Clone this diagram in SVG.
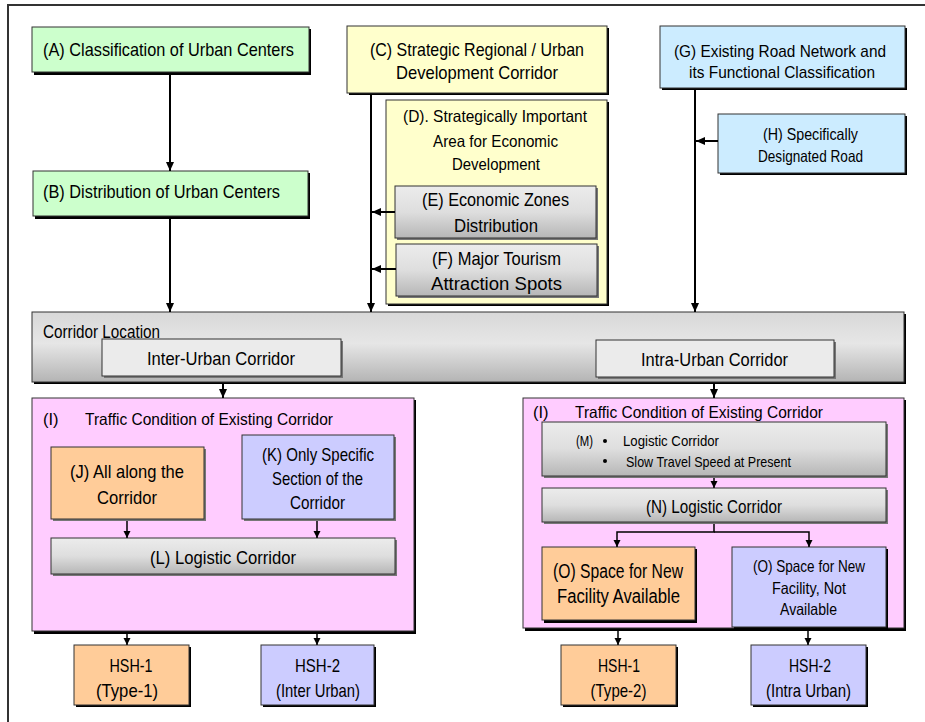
<svg xmlns="http://www.w3.org/2000/svg" width="925" height="722" viewBox="0 0 925 722">
<defs>
<linearGradient id="gray" x1="0" y1="0" x2="0" y2="1">
<stop offset="0" stop-color="#ececec"/>
<stop offset="0.5" stop-color="#dedede"/>
<stop offset="1" stop-color="#b6b6b6"/>
</linearGradient>
<linearGradient id="gray2" x1="0" y1="0" x2="0" y2="1">
<stop offset="0" stop-color="#d8d8d8"/>
<stop offset="0.45" stop-color="#e6e6e6"/>
<stop offset="1" stop-color="#b4b4b4"/>
</linearGradient>
<marker id="ah" markerUnits="userSpaceOnUse" markerWidth="10" markerHeight="10" refX="9" refY="5" orient="auto">
<path d="M0,1 L9,5 L0,9 Z" fill="#000"/>
</marker>
<marker id="as" markerUnits="userSpaceOnUse" markerWidth="8" markerHeight="8" refX="7" refY="4" orient="auto">
<path d="M0,0.5 L7,4 L0,7.5 Z" fill="#000"/>
</marker>
</defs>
<style>
text{font-family:"Liberation Sans Narrow","Liberation Sans",Arial,sans-serif;fill:#000;}
.t17{font-size:18.5px;text-anchor:middle;}
.t15{font-size:16.5px;text-anchor:middle;}
.l15{font-size:16.5px;}
.l13{font-size:14.5px;}
.box{stroke:#333;stroke-width:1;}
.sh{fill:#000;}
.shg{fill:#777;}
.green{fill:#ccffcc;}
.yellow{fill:#ffffcc;}
.blue{fill:#ccecff;}
.pink{fill:#ffccff;}
.orange{fill:#ffcc99;}
.lav{fill:#ccccff;}
.light{fill:#ebebeb;}
.grad{fill:url(#gray);}
.conn{stroke:#000;stroke-width:2;fill:none;}
.conns{stroke:#000;stroke-width:1.5;fill:none;}
</style>
<rect x="0" y="0" width="925" height="722" fill="#fff"/>
<rect x="8" y="5" width="940" height="740" fill="none" stroke="#333" stroke-width="2"/>

<g id="nodeA">
<rect class="sh" x="34" y="29" width="277" height="46"/>
<rect class="box green" x="32" y="27" width="277" height="45"/>
<text class="t17" x="168.5" y="56" textLength="251" lengthAdjust="spacingAndGlyphs">(A) Classification of Urban Centers</text>
</g>
<g id="nodeB">
<rect class="sh" x="35" y="173" width="275" height="46"/>
<rect class="box green" x="33" y="171" width="275" height="45"/>
<text class="t17" x="161.5" y="198" textLength="237" lengthAdjust="spacingAndGlyphs">(B) Distribution of Urban Centers</text>
</g>
<g id="nodeC">
<rect class="sh" x="349" y="28" width="260" height="67"/>
<rect class="box yellow" x="347" y="26" width="260" height="67"/>
<text class="t17" x="477" y="56" textLength="214" lengthAdjust="spacingAndGlyphs">(C) Strategic Regional / Urban</text>
<text class="t17" x="477" y="79" textLength="162" lengthAdjust="spacingAndGlyphs">Development Corridor</text>
</g>
<g id="nodeD">
<rect class="sh" x="388" y="102" width="221" height="204"/>
<rect class="box yellow" x="386" y="100" width="221" height="204"/>
<text class="t15" x="495" y="122" textLength="184" lengthAdjust="spacingAndGlyphs">(D). Strategically Important</text>
<text class="t15" x="495.5" y="147" textLength="125" lengthAdjust="spacingAndGlyphs">Area for Economic</text>
<text class="t15" x="496" y="170" textLength="88" lengthAdjust="spacingAndGlyphs">Development</text>
</g>
<g id="nodeE">
<rect class="shg" x="397" y="188" width="201" height="52"/>
<rect class="box grad" x="395" y="186" width="201" height="52"/>
<text class="t17" x="495.5" y="206" textLength="147" lengthAdjust="spacingAndGlyphs">(E) Economic Zones</text>
<text class="t17" x="496" y="232" textLength="84" lengthAdjust="spacingAndGlyphs">Distribution</text>
</g>
<g id="nodeF">
<rect class="shg" x="398" y="246" width="201" height="52"/>
<rect class="box grad" x="396" y="244" width="201" height="52"/>
<text class="t17" x="496.5" y="265" textLength="129" lengthAdjust="spacingAndGlyphs">(F) Major Tourism</text>
<text class="t17" x="496.5" y="290" textLength="131" lengthAdjust="spacingAndGlyphs">Attraction Spots</text>
</g>
<g id="nodeG">
<rect class="sh" x="662" y="28" width="245" height="62"/>
<rect class="box blue" x="660" y="26" width="245" height="62"/>
<text class="t17" x="780" y="57" textLength="212" lengthAdjust="spacingAndGlyphs" style="font-size:17px">(G) Existing Road Network and</text>
<text class="t17" x="782" y="78" textLength="186" lengthAdjust="spacingAndGlyphs" style="font-size:17px">its Functional Classification</text>
</g>
<g id="nodeH">
<rect class="sh" x="720" y="116" width="187" height="59"/>
<rect class="box blue" x="718" y="114" width="187" height="59"/>
<text class="t15" x="810.5" y="140" textLength="95" lengthAdjust="spacingAndGlyphs">(H) Specifically</text>
<text class="t15" x="810.5" y="162" textLength="105" lengthAdjust="spacingAndGlyphs">Designated Road</text>
</g>
<g id="nodeCorridor">
<rect class="sh" x="34" y="314" width="872" height="70"/>
<rect class="box" fill="url(#gray2)" x="32" y="312" width="872" height="70"/>
<text x="43" y="338" textLength="117" lengthAdjust="spacingAndGlyphs" style="font-size:17.5px">Corridor Location</text>
</g>
<g id="nodeInter">
<rect class="shg" x="104" y="341" width="239" height="37"/>
<rect class="box light" x="102" y="339" width="239" height="37"/>
<text class="t17" x="221" y="365" textLength="148" lengthAdjust="spacingAndGlyphs">Inter-Urban Corridor</text>
</g>
<g id="nodeIntra">
<rect class="shg" x="598" y="342" width="238" height="37"/>
<rect class="box light" x="596" y="340" width="238" height="37"/>
<text class="t17" x="714.5" y="366" textLength="147" lengthAdjust="spacingAndGlyphs">Intra-Urban Corridor</text>
</g>
<g id="nodeI1">
<rect class="sh" x="34" y="400" width="382" height="234"/>
<rect class="box pink" x="32" y="398" width="382" height="233"/>
<text class="l15" x="43" y="425">(I)</text>
<text class="l15" x="85" y="425" textLength="248" lengthAdjust="spacingAndGlyphs">Traffic Condition of Existing Corridor</text>
</g>
<g id="nodeJ">
<rect class="shg" x="53" y="449" width="153" height="72"/>
<rect class="box orange" x="51" y="447" width="153" height="72"/>
<text class="t17" x="127" y="478" textLength="114" lengthAdjust="spacingAndGlyphs">(J) All along the</text>
<text class="t17" x="127" y="504" textLength="60" lengthAdjust="spacingAndGlyphs">Corridor</text>
</g>
<g id="nodeK">
<rect class="shg" x="244" y="437" width="152" height="84"/>
<rect class="box lav" x="242" y="435" width="152" height="84"/>
<text class="t17" x="318" y="461" textLength="112" lengthAdjust="spacingAndGlyphs">(K) Only Specific</text>
<text class="t17" x="317.5" y="485" textLength="91" lengthAdjust="spacingAndGlyphs">Section of the</text>
<text class="t17" x="317.5" y="509" textLength="55" lengthAdjust="spacingAndGlyphs">Corridor</text>
</g>
<g id="nodeL">
<rect class="shg" x="53" y="540" width="344" height="36"/>
<rect class="box grad" x="51" y="538" width="344" height="36"/>
<text class="t17" x="223" y="564" textLength="146" lengthAdjust="spacingAndGlyphs">(L) Logistic Corridor</text>
</g>
<g id="nodeI2">
<rect class="sh" x="525" y="400" width="381" height="231"/>
<rect class="box pink" x="523" y="398" width="381" height="230"/>
<text class="l15" x="533" y="418">(I)</text>
<text class="l15" x="575" y="418" textLength="248" lengthAdjust="spacingAndGlyphs">Traffic Condition of Existing Corridor</text>
</g>
<g id="nodeM">
<rect class="shg" x="544" y="424" width="344" height="54"/>
<rect class="box grad" x="542" y="422" width="344" height="54"/>
<text class="l13" x="576" y="446" textLength="17" lengthAdjust="spacingAndGlyphs">(M)</text>
<circle cx="605" cy="441" r="2" fill="#000"/>
<text class="l13" x="623" y="446" textLength="96" lengthAdjust="spacingAndGlyphs">Logistic Corridor</text>
<circle cx="605" cy="461" r="2" fill="#000"/>
<text class="l13" x="626" y="467" textLength="165" lengthAdjust="spacingAndGlyphs">Slow Travel Speed at Present</text>
</g>
<g id="nodeN">
<rect class="shg" x="544" y="490" width="344" height="34"/>
<rect class="box grad" x="542" y="488" width="344" height="34"/>
<text class="t17" x="714" y="513" textLength="136" lengthAdjust="spacingAndGlyphs">(N) Logistic Corridor</text>
</g>
<g id="nodeO1">
<rect class="sh" x="544" y="549" width="153" height="74"/>
<rect class="box orange" x="542" y="547" width="153" height="73"/>
<text class="t17" x="618" y="578" textLength="130" lengthAdjust="spacingAndGlyphs" style="font-size:19.5px">(O) Space for New</text>
<text class="t17" x="618.5" y="603" textLength="123" lengthAdjust="spacingAndGlyphs" style="font-size:19.5px">Facility Available</text>
</g>
<g id="nodeO2">
<rect class="sh" x="734" y="549" width="154" height="81"/>
<rect class="box lav" x="732" y="547" width="154" height="80"/>
<text class="t15" x="809" y="572" textLength="112" lengthAdjust="spacingAndGlyphs">(O) Space for New</text>
<text class="t15" x="809" y="594" textLength="74" lengthAdjust="spacingAndGlyphs">Facility, Not</text>
<text class="t15" x="808.5" y="615" textLength="57" lengthAdjust="spacingAndGlyphs">Available</text>
</g>
<g id="nodeHSH1a">
<rect class="sh" x="76" y="647" width="115" height="60"/>
<rect class="box orange" x="74" y="645" width="115" height="60"/>
<text class="t17" x="131" y="672" textLength="43" lengthAdjust="spacingAndGlyphs">HSH-1</text>
<text class="t17" x="127" y="697" textLength="62" lengthAdjust="spacingAndGlyphs">(Type-1)</text>
</g>
<g id="nodeHSH2a">
<rect class="sh" x="263" y="647" width="113" height="60"/>
<rect class="box lav" x="261" y="645" width="113" height="60"/>
<text class="t17" x="317.5" y="672" textLength="45" lengthAdjust="spacingAndGlyphs">HSH-2</text>
<text class="t17" x="318" y="697" textLength="84" lengthAdjust="spacingAndGlyphs">(Inter Urban)</text>
</g>
<g id="nodeHSH1b">
<rect class="sh" x="563" y="647" width="115" height="60"/>
<rect class="box orange" x="561" y="645" width="115" height="60"/>
<text class="t17" x="619" y="672" textLength="42" lengthAdjust="spacingAndGlyphs">HSH-1</text>
<text class="t17" x="618.5" y="697" textLength="56" lengthAdjust="spacingAndGlyphs">(Type-2)</text>
</g>
<g id="nodeHSH2b">
<rect class="sh" x="753" y="647" width="115" height="60"/>
<rect class="box lav" x="751" y="645" width="115" height="60"/>
<text class="t17" x="810" y="672" textLength="42" lengthAdjust="spacingAndGlyphs">HSH-2</text>
<text class="t17" x="808.5" y="697" textLength="85" lengthAdjust="spacingAndGlyphs">(Intra Urban)</text>
</g>

<g id="connectors">
<path class="conn" d="M170,75 V171" marker-end="url(#ah)"/>
<path class="conn" d="M170,219 V312" marker-end="url(#ah)"/>
<path class="conn" d="M371,95 V312" marker-end="url(#ah)"/>
<path class="conn" d="M395,212 H372" marker-end="url(#ah)"/>
<path class="conn" d="M396,269 H372" marker-end="url(#ah)"/>
<path class="conn" d="M695,90 V312" marker-end="url(#ah)"/>
<path class="conn" d="M718,141 H696" marker-end="url(#ah)"/>
<path class="conn" d="M223,384 V398" marker-end="url(#ah)"/>
<path class="conn" d="M714,384 V398" marker-end="url(#ah)"/>
<path class="conns" d="M127,521 V538" marker-end="url(#as)"/>
<path class="conns" d="M317,521 V538" marker-end="url(#as)"/>
<path class="conns" d="M714,478 V488" marker-end="url(#as)"/>
<path class="conns" d="M714,524 V532 H617 V547" marker-end="url(#as)"/>
<path class="conns" d="M714,532 H809 V547" marker-end="url(#as)"/>
<path class="conns" d="M127,634 V645" marker-end="url(#as)"/>
<path class="conns" d="M317,634 V645" marker-end="url(#as)"/>
<path class="conns" d="M618,631 V645" marker-end="url(#as)"/>
<path class="conns" d="M808,631 V645" marker-end="url(#as)"/>
</g>
</svg>
